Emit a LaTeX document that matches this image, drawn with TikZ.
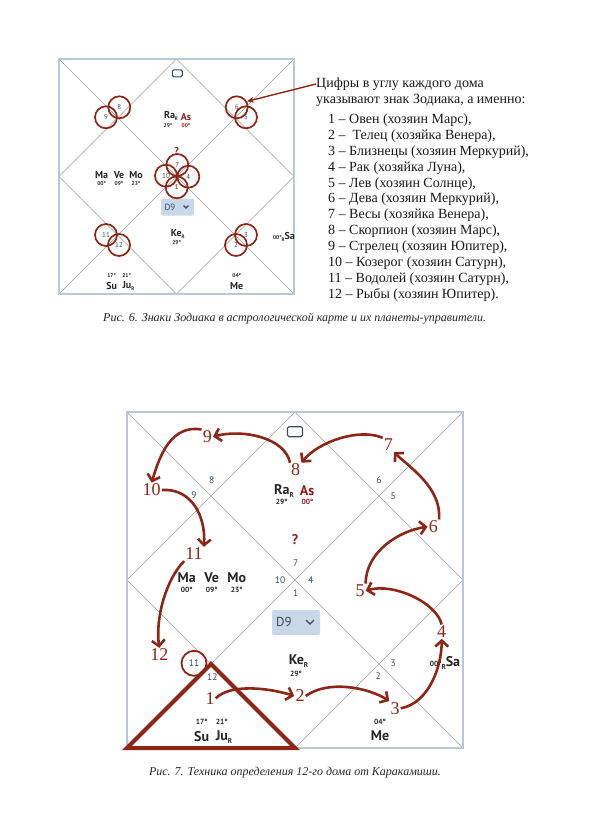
\documentclass[tikz,border=0pt]{standalone}
\usepackage{fontspec}
\setmainfont{Liberation Serif}
\newfontfamily\chartfont{PT Sans}
\usepackage{xcolor}
\definecolor{brick}{RGB}{140,38,22}
\definecolor{asred}{RGB}{140,25,30}
\definecolor{frameblue}{RGB}{185,200,215}
\definecolor{linegray}{RGB}{155,155,155}
\definecolor{numgray}{RGB}{60,75,90}
\definecolor{boxblue}{RGB}{200,216,232}
\usetikzlibrary{arrows.meta, positioning}
\newcommand{\rsub}{\raisebox{-0.45ex}{\scalebox{0.5}{R}}}

\begin{document}
\begin{tikzpicture}[x=1pt, y=-1pt,
    frame/.style={draw=frameblue, line width=1.6pt},
    house/.style={draw=linegray, line width=0.6pt},
    bigplanet/.style={font=\chartfont\bfseries\fontsize{14}{14}\selectfont, text=black!85, inner sep=0pt},
    bigdeg/.style={font=\chartfont\bfseries\fontsize{7.5}{8}\selectfont, text=black!85, inner sep=0pt},
    smallplanet/.style={font=\chartfont\bfseries\fontsize{10}{10}\selectfont, text=black!85, inner sep=0pt},
    smalldeg/.style={font=\chartfont\bfseries\fontsize{5.5}{6}\selectfont, text=black!85, inner sep=0pt},
    housenum/.style={font=\chartfont\fontsize{9.5}{10}\selectfont, text=numgray, inner sep=0pt},
    signcirc/.style={circle, draw=brick, line width=1.7pt, minimum size=22pt, inner sep=0pt,
        font=\chartfont\fontsize{7}{7}\selectfont, text=numgray},
    icon/.style={draw=numgray, rounded corners=1.5pt, line width=1.1pt, inner sep=0pt},
    dbox/.style={fill=boxblue, rounded corners=2pt, inner sep=0pt},
    chev/.style={draw=numgray, line width=1.2pt},
    rednum/.style={font=\fontsize{18}{18}\selectfont, text=brick, inner sep=1pt},
    karrow/.style={draw=brick, line width=2.6pt, -{Straight Barb[length=6pt, width=13pt]}},
    pointer/.style={draw=brick, line width=1.4pt, -{Stealth[length=7pt, width=6pt]}},
    note/.style={font=\fontsize{14}{15.9}\selectfont, text=black!90, inner sep=0pt, align=left},
    caption/.style={font=\itshape\fontsize{12}{14}\selectfont, text=black!85, inner sep=0pt}
]
\useasboundingbox[fill=white] (0,0) rectangle (591,839);

% ---- first chart
\draw[house] (59,59) -- (294,294) (294,59) -- (59,294)
    (176.5,59) -- (294,176.5) -- (176.5,294) -- (59,176.5) -- cycle;
\draw[frame] (59,59) rectangle (294,294);

\node[icon, minimum width=10pt, minimum height=7pt] (sicon) at (177.3,73.3) {};
\node[smallplanet] (sra) at (171,116) {Ra\rsub};
\node[smalldeg] (sra-d) at (168,126) {29°};
\node[smallplanet, text=asred] (sas) at (186,116.7) {As};
\node[smalldeg, text=asred] (sas-d) at (186,125.7) {00°};
\node[smallplanet, text=brick] (sq) at (176.7,150.7) {?};
\node[smallplanet] (sma) at (101.7,175) {Ma};
\node[smallplanet] (sve) at (119,175) {Ve};
\node[smallplanet] (smo) at (136,175) {Mo};
\node[smalldeg] (sma-d) at (101.7,183.3) {00°};
\node[smalldeg] (sve-d) at (119,183.3) {09°};
\node[smalldeg] (smo-d) at (136,183.3) {23°};
\node[smallplanet] (ske) at (177.7,234) {Ke\rsub};
\node[smalldeg] (ske-d) at (176.7,242.3) {29°};
\node[smallplanet] (ssa) at (284,236.7) {{\fontsize{5.5}{6}\selectfont 00°}\rsub Sa};
\node[smalldeg] (ssu-d) at (111.7,275.7) {17°};
\node[smalldeg] (sju-d) at (126.7,275.7) {21°};
\node[smallplanet] (ssu) at (111.7,285.7) {Su};
\node[smallplanet] (sju) at (128.5,285.7) {Ju\rsub};
\node[smalldeg] (sme-d) at (236.7,275.7) {04°};
\node[smallplanet] (sme) at (236.7,285.7) {Me};

\node[dbox, minimum width=33pt, minimum height=17pt] (sd9) at (177.7,207) {};
\node[smallplanet, font=\chartfont\fontsize{9}{9}\selectfont, text=numgray] (sd9t) at (170,207) {D9};
\draw[chev] (183.5,205.5) -- (186,208) -- (188.5,205.5);

\node[signcirc] (c7) at (177.3,165) {7};
\node[signcirc] (c10) at (166,175.7) {10};
\node[signcirc] (c4) at (188.3,176.7) {4};
\node[signcirc] (c1) at (176.7,187.3) {1};
\node[signcirc] (c8) at (119.3,107.3) {8};
\node[signcirc] (c9) at (106,117.3) {9};
\node[signcirc] (c6) at (236.7,107.3) {6};
\node[signcirc] (c5) at (246,117.3) {5};
\node[signcirc] (c11) at (106,235) {11};
\node[signcirc] (c12) at (119,245) {12};
\node[signcirc] (c3) at (246,235) {3};
\node[signcirc] (c2) at (236,245) {2};

% ---- explanation
\node[note, anchor=west] (h1) at (316,84) {Цифры в углу каждого дома};
\node[note, anchor=west] (h2) at (316,100) {указывают знак Зодиака, а именно:};
\node[note, anchor=north west] (signs) at (328,113.5) {%
1 – Овен (хозяин Марс),\\
2 –\ \ Телец (хозяйка Венера),\\
3 – Близнецы (хозяин Меркурий),\\
4 – Рак (хозяйка Луна),\\
5 – Лев (хозяин Солнце),\\
6 – Дева (хозяин Меркурий),\\
7 – Весы (хозяйка Венера),\\
8 – Скорпион (хозяин Марс),\\
9 – Стрелец (хозяин Юпитер),\\
10 – Козерог (хозяин Сатурн),\\
11 – Водолей (хозяин Сатурн),\\
12 – Рыбы (хозяин Юпитер).};
\draw[pointer] (h1.west) -- (c6.30);

\node[caption, anchor=west] (cap6) at (103,319) {Рис. 6. Знаки Зодиака в астрологической карте и их планеты-управители.};

% ---- second chart
\draw[house] (127,412) -- (463,748) (463,412) -- (127,748)
    (295,412) -- (463,580) -- (295,748) -- (127,580) -- cycle;
\draw[frame] (127,412) rectangle (463,748);

\node[icon, minimum width=15pt, minimum height=10pt] (bicon) at (295,431.7) {};
\node[bigplanet] (bra) at (284,491) {Ra\rsub};
\node[bigdeg] (bra-d) at (281.7,502) {29°};
\node[bigplanet, text=asred] (bas) at (307,491) {As};
\node[bigdeg, text=asred] (bas-d) at (307.5,502) {00°};
\node[bigplanet, text=brick] (bq) at (295,540) {?};
\node[bigplanet] (bma) at (186.7,577.3) {Ma};
\node[bigplanet] (bve) at (211.7,577.3) {Ve};
\node[bigplanet] (bmo) at (236.7,577.3) {Mo};
\node[bigdeg] (bma-d) at (186.7,590) {00°};
\node[bigdeg] (bve-d) at (211.7,590) {09°};
\node[bigdeg] (bmo-d) at (236.7,590) {23°};
\node[bigplanet] (bke) at (298.5,661) {Ke\rsub};
\node[bigdeg] (bke-d) at (296,674) {29°};
\node[bigplanet] (bsa) at (445,663) {{\fontsize{7.5}{8}\selectfont 00°}\rsub Sa};
\node[bigdeg] (bsu-d) at (201.7,721.7) {17°};
\node[bigdeg] (bju-d) at (221.7,721.7) {21°};
\node[bigplanet] (bsu) at (201.7,736.7) {Su};
\node[bigplanet] (bju) at (224,736.7) {Ju\rsub};
\node[bigdeg] (bme-d) at (380,721.7) {04°};
\node[bigplanet] (bme) at (380,735.7) {Me};

\node[dbox, minimum width=48pt, minimum height=25pt] (bd9) at (296,622.5) {};
\node[bigplanet, font=\chartfont\fontsize{13}{13}\selectfont, text=numgray] (bd9t) at (284,622) {D9};
\draw[chev] (306,620) -- (310,624) -- (314,620);

\node[housenum] (k8) at (211.7,480) {8};
\node[housenum] (k9) at (194,495) {9};
\node[housenum] (k6) at (379,480) {6};
\node[housenum] (k5) at (393.3,496) {5};
\node[housenum] (k7) at (295.7,563.3) {7};
\node[housenum] (k10) at (280,580) {10};
\node[housenum] (k4) at (310.7,580) {4};
\node[housenum] (k1) at (295.7,593.3) {1};
\node[housenum, circle, draw=brick, line width=1.8pt, minimum size=25pt] (k11) at (194,663.3) {11};
\node[housenum] (k12) at (212.3,677.3) {12};
\node[housenum] (k3) at (393.3,663.3) {3};
\node[housenum] (k2) at (378.3,676) {2};

% house of the Karakamsha
\draw[draw=brick, line width=4pt, line join=miter] (127,748) -- (295,748) -- (211,664) -- cycle;

\node[rednum] (n1) at (210,698.3) {1};
\node[rednum] (n2) at (300,696) {2};
\node[rednum] (n3) at (395,708.3) {3};
\node[rednum] (n4) at (441.7,631.7) {4};
\node[rednum] (n5) at (360,590.7) {5};
\node[rednum] (n6) at (433.3,526.7) {6};
\node[rednum] (n7) at (388.3,445) {7};
\node[rednum] (n8) at (295.7,470) {8};
\node[rednum] (n9) at (207.3,436.7) {9};
\node[rednum] (n10) at (151.7,490) {10};
\node[rednum] (n11) at (194,554) {11};
\node[rednum] (n12) at (159.3,655) {12};

\draw[karrow] (n1.east) .. controls +(15,-15) and +(-25,-8) .. (n2.west);
\draw[karrow] (n2.east) .. controls +(22,-16) and +(-22,-14) .. (n3.north west);
\draw[karrow] (n3.east) .. controls +(28,-5) and +(0,28) .. (n4.south);
\draw[karrow] (n4.north) .. controls +(-5,-22) and +(28,-8) .. (n5.east);
\draw[karrow] (n5.north east) .. controls +(0,-32) and +(-28,4) .. (n6.west);
\draw[karrow] (n6.north east) .. controls +(3,-32) and +(14,14) .. (n7.south east);
\draw[karrow] (n7.north west) .. controls +(-22,-10) and +(18,-22) .. (n8.north east);
\draw[karrow] (n8.north west) .. controls +(-5,-25) and +(30,-8) .. (n9.east);
\draw[karrow] (n9.north west) .. controls +(-30,-5) and +(8,-28) .. (n10.north);
\draw[karrow] (n10.east) .. controls +(30,-2) and +(2,-30) .. (n11.north east);
\draw[karrow] (n11.south west) .. controls +(-18,18) and +(-4,-30) .. (n12.north);

\node[caption] (cap7) at (295,773) {Рис. 7. Техника определения 12-го дома от Каракамиши.};
\end{tikzpicture}
\end{document}
